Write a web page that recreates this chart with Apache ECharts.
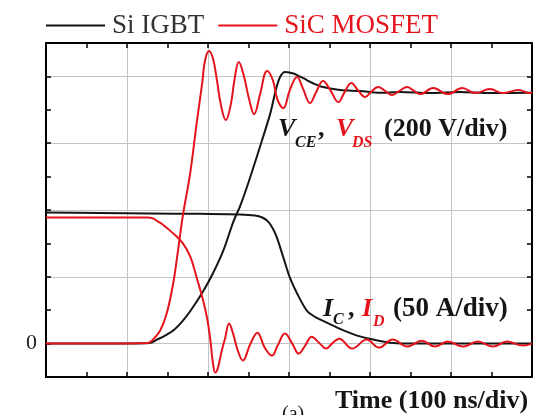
<!DOCTYPE html>
<html>
<head>
<meta charset="utf-8">
<script src="https://cdn.jsdelivr.net/npm/echarts@6/dist/echarts.min.js"></script>
<style>
  html, body { margin: 0; padding: 0; background: #ffffff; }
  #chart { width: 533px; height: 415px; }
</style>
</head>
<body>
<div id="chart"></div>
<script>
// Turn-off transients: time in ns, voltage in V (200 V/div), current in A (50 A/div)
const igbtVce = [
  [0, 0], [67, 0], [128, 2], [137, 12], [147, 24], [157, 39], [168, 66], [178, 97],
  [194, 157], [206, 210], [219, 279], [231, 363], [240, 414], [248, 468], [264, 588],
  [277, 690], [284, 762], [289, 798], [295, 813], [303, 810], [310, 804], [322, 789],
  [332, 777], [342, 768], [363, 759], [388, 756], [412, 751], [437, 753], [474, 750],
  [511, 753], [548, 750], [600, 751]
];

const sicVds = [
  [0, 0], [67, 0], [126, 2], [132, 12], [141, 39], [149, 90], [157, 180], [163, 279],
  [169, 384], [178, 510], [186, 660], [193, 783], [196, 843], [201, 876], [206, 855],
  [211, 789], [216, 714], [222, 669], [228, 714], [233, 795], [238, 843], [244, 804],
  [251, 729], [257, 687], [264, 744], [273, 816], [280, 789], [286, 729], [293, 705],
  [301, 759], [310, 798], [317, 765], [326, 720], [333, 750], [342, 786], [351, 759],
  [361, 723], [368, 750], [377, 780], [385, 759], [394, 738], [401, 753], [410, 768],
  [419, 756], [427, 744], [436, 756], [446, 768], [453, 759], [462, 747], [478, 765],
  [496, 747], [514, 765], [530, 750], [548, 762], [564, 750], [583, 759], [598, 750],
  [600, 753]
];

const igbtIc = [
  [0, 98.2], [67, 97.8], [128, 97.4], [190, 97.1], [240, 96.7], [258, 95.9], [267, 94.4],
  [274, 91.5], [280, 86.2], [285, 79.5], [293, 64.5], [301, 49.5], [310, 37.5],
  [322, 24.7], [332, 20], [342, 17], [363, 11], [384, 6], [404, 3], [425, 0.7],
  [462, 0], [600, 0]
];

const sicId = [
  [0, 94.4], [67, 94.4], [125, 94.4], [132, 93.7], [138, 91.5], [144, 89.2], [157, 82.5],
  [169, 75], [178, 65.2], [186, 49.5], [194, 32.2], [199, 18.7], [203, 2.2], [206, -14.2],
  [209, -21.7], [212, -18.7], [217, -5.2], [221, 3.7], [226, 15], [231, 7.5], [236, -3.7],
  [243, -12.7], [252, -0.7], [261, 8.2], [270, -3], [279, -9], [286, -1.5], [295, 7.5],
  [304, 0], [312, -7.5], [320, -1.5], [328, 5.2], [337, 0.7], [346, -3.7], [353, 0],
  [362, 3.7], [378, -3.7], [396, 3], [411, -3], [428, 3], [446, -2.2], [464, 2.2],
  [480, -2.2], [496, 1.5], [515, -2.2], [533, 1.5], [552, -2.2], [569, 1.5], [589, -1.5],
  [600, 0]
];

// Axis ranges: 6 time divisions, 5 vertical divisions with the zero at half a division
const timeRange = [0, 600];
const currentRange = [-25, 225];
const voltageRange = [-100, 900];

const BLACK = '#151515';
const RED = '#e5141c';
const SERIF = '"Liberation Serif", "Times New Roman", serif';

const frameAxis = {
  axisLine: { show: true, onZero: false, lineStyle: { color: '#000', width: 2 } },
  axisTick: { show: true, inside: true, length: 5, lineStyle: { color: '#000', width: 1.5 } },
  axisLabel: { show: false },
  splitLine: { show: false }
};

// Text placed by its baseline
function txt(text, x, baseline, size, color, italic, bold) {
  return {
    type: 'text',
    x: x,
    y: baseline - 0.34 * size,
    silent: true,
    z: 10,
    style: {
      text: text,
      fill: color,
      fontFamily: SERIF,
      fontSize: size,
      fontWeight: bold ? 'bold' : 'normal',
      fontStyle: italic ? 'italic' : 'normal',
      align: 'left',
      verticalAlign: 'middle'
    }
  };
}

const chart = echarts.init(document.getElementById('chart'), null, { renderer: 'canvas' });

chart.setOption({
  animation: false,
  backgroundColor: '#ffffff',
  grid: { left: 46, right: 1, top: 43, bottom: 38, containLabel: false },
  legend: {
    left: 46,
    top: 12,
    padding: 0,
    icon: 'rect',
    itemWidth: 59,
    itemHeight: 2,
    itemGap: 14,
    selectedMode: false,
    textStyle: { fontFamily: SERIF, fontSize: 27, padding: [0, 0, 0, 2] },
    data: [
      { name: 'Si IGBT', textStyle: { color: '#333333' }, itemStyle: { color: BLACK } },
      { name: 'SiC MOSFET', textStyle: { color: RED }, itemStyle: { color: RED } }
    ]
  },
  xAxis: [
    Object.assign({}, frameAxis, {
      type: 'value', position: 'bottom', min: timeRange[0], max: timeRange[1], interval: 100,
      minorTick: { show: true, splitNumber: 2, length: 5, lineStyle: { color: '#000', width: 1.5 } },
      splitLine: { show: true, lineStyle: { color: '#c4c4c4', width: 1 } }
    }),
    Object.assign({}, frameAxis, {
      type: 'value', position: 'top', min: timeRange[0], max: timeRange[1], interval: 100,
      minorTick: { show: true, splitNumber: 2, length: 5, lineStyle: { color: '#000', width: 1.5 } }
    })
  ],
  yAxis: [
    Object.assign({}, frameAxis, {
      type: 'value', position: 'left', min: currentRange[0], max: currentRange[1], interval: 25,
      axisLabel: {
        show: true, margin: 9, color: '#222', fontFamily: SERIF, fontSize: 22,
        formatter: function (v) { return v === 0 ? '0' : ''; }
      }
    }),
    Object.assign({}, frameAxis, {
      type: 'value', position: 'right', min: voltageRange[0], max: voltageRange[1], interval: 100
    }),
    {
      // grid lines every division (200 V)
      type: 'value', position: 'right', min: voltageRange[0], max: voltageRange[1], splitNumber: 5,
      axisLine: { show: false }, axisTick: { show: false }, axisLabel: { show: false },
      splitLine: { show: true, lineStyle: { color: '#c4c4c4', width: 1 } }
    }
  ],
  series: [
    {
      name: 'Si IGBT', type: 'line', xAxisIndex: 0, yAxisIndex: 1, data: igbtVce,
      showSymbol: false, smooth: 0.3, lineStyle: { color: BLACK, width: 2 }, itemStyle: { color: BLACK }, z: 3
    },
    {
      name: 'Si IGBT', type: 'line', xAxisIndex: 0, yAxisIndex: 0, data: igbtIc,
      showSymbol: false, smooth: 0.3, lineStyle: { color: BLACK, width: 2 }, itemStyle: { color: BLACK }, z: 3
    },
    {
      name: 'SiC MOSFET', type: 'line', xAxisIndex: 0, yAxisIndex: 1, data: sicVds,
      showSymbol: false, smooth: 0.4, lineStyle: { color: RED, width: 2 }, itemStyle: { color: RED }, z: 4
    },
    {
      name: 'SiC MOSFET', type: 'line', xAxisIndex: 0, yAxisIndex: 0, data: sicId,
      showSymbol: false, smooth: 0.4, lineStyle: { color: RED, width: 2 }, itemStyle: { color: RED }, z: 4
    }
  ],
  graphic: [
    // V_CE , V_DS (200 V/div)
    txt('V', 278, 138, 26, BLACK, true, true),
    txt('CE', 295, 148, 16, BLACK, true, true),
    txt(',', 318, 138, 26, BLACK, false, true),
    txt('V', 336, 138, 26, RED, true, true),
    txt('DS', 352, 148, 16, RED, true, true),
    txt('(200 V/div)', 384, 138, 26, BLACK, false, true),
    // I_C , I_D (50 A/div)
    txt('I', 323, 318, 26, BLACK, true, true),
    txt('C', 333, 325, 16, BLACK, true, true),
    txt(',', 348, 318, 26, BLACK, false, true),
    txt('I', 362, 318, 26, RED, true, true),
    txt('D', 373, 327, 16, RED, true, true),
    txt('(50 A/div)', 393, 318, 27, BLACK, false, true),
    // time axis title and panel tag
    txt('Time (100 ns/div)', 335, 410, 26, BLACK, false, true),
    txt('(a)', 282, 422, 20, BLACK, false, false)
  ]
});
</script>
</body>
</html>
